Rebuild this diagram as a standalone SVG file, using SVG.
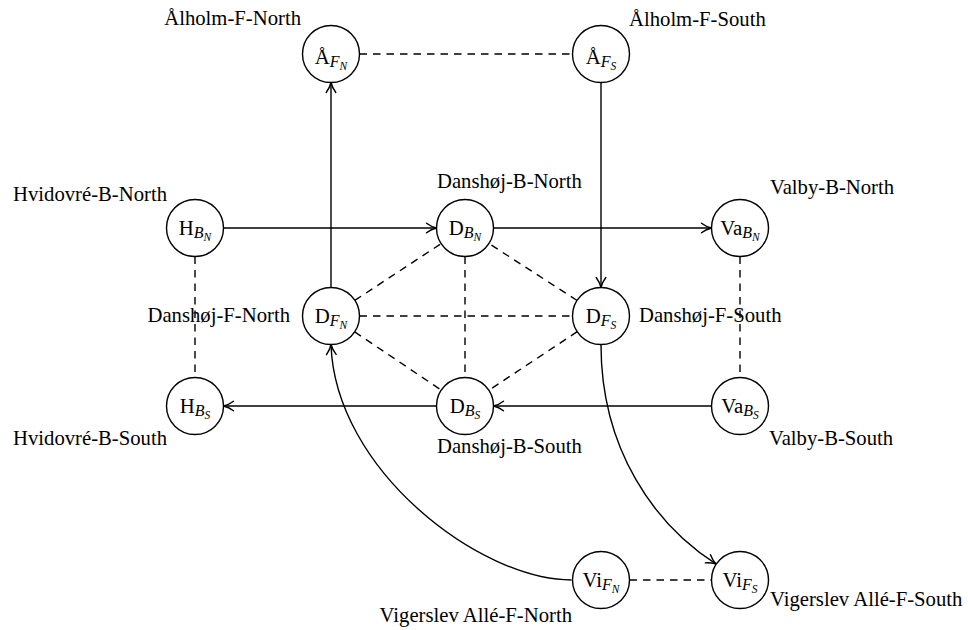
<svg xmlns="http://www.w3.org/2000/svg" width="968" height="630" viewBox="0 0 968 630">
<style>
  .node circle { fill: #ffffff; stroke: #000000; stroke-width: 1.4; }
  .n { font-family: "Liberation Serif", "Times New Roman", serif; font-size: 20.8px; fill: #000; text-anchor: middle; }
  .s { font-style: italic; font-size: 16px; }
  .ss { font-style: italic; font-size: 11.5px; }
  .lbl { font-family: "Liberation Serif", "Times New Roman", serif; font-size: 20.7px; fill: #000; }
  .end { text-anchor: end; }
  .edges path, .edges line { fill: none; stroke: #000000; stroke-width: 1.4; }
  .edges .d { stroke-dasharray: 7.5 6; }
</style>
<defs>
  <marker id="arr" markerUnits="userSpaceOnUse" viewBox="-12 -7 14 14" markerWidth="14" markerHeight="14" refX="0" refY="0" orient="auto">
    <path d="M-10,-4.8 C-6.5,-2.2 -2.5,-0.6 0,0 C-2.5,0.6 -6.5,2.2 -10,4.8" fill="none" stroke="#000" stroke-width="1.4" stroke-linecap="round"/>
  </marker>
</defs>

<g class="edges" id="connectors">
  <line class="d" x1="359.5" y1="54" x2="572.5" y2="54"/>
  <line class="d" x1="195" y1="256.5" x2="195" y2="377.5"/>
  <line class="d" x1="740" y1="256.5" x2="740" y2="377.5"/>
  <line class="d" x1="359.5" y1="316" x2="572.5" y2="316"/>
  <line class="d" x1="465" y1="256.5" x2="465" y2="377.5"/>
  <line class="d" x1="354.8" y1="300.4" x2="441.2" y2="243.6"/>
  <line class="d" x1="354.7" y1="331.9" x2="441.3" y2="390.1"/>
  <line class="d" x1="577.1" y1="300.5" x2="488.9" y2="243.5"/>
  <line class="d" x1="577.2" y1="331.7" x2="488.8" y2="390.3"/>
  <line class="d" x1="629.5" y1="580" x2="711.5" y2="580"/>
  <line x1="331" y1="287.5" x2="331" y2="82.5" marker-end="url(#arr)"/>
  <line x1="601" y1="82.5" x2="601" y2="287.5" marker-end="url(#arr)"/>
  <line x1="223.5" y1="228" x2="436.5" y2="228" marker-end="url(#arr)"/>
  <line x1="493.5" y1="228" x2="711.5" y2="228" marker-end="url(#arr)"/>
  <line x1="436.5" y1="406" x2="223.5" y2="406" marker-end="url(#arr)"/>
  <line x1="711.5" y1="406" x2="493.5" y2="406" marker-end="url(#arr)"/>
  <path d="M601,344.5 C601,450 655,525 716.3,564.2" marker-end="url(#arr)"/>
  <path d="M571.5,580 C480,580 335,470 331,344.5" marker-end="url(#arr)"/>
</g>

<g class="node" id="AFN"><circle cx="331" cy="54" r="28.5"/><text class="n" x="331" y="63.5">Å<tspan class="s" dy="3.5">F</tspan><tspan class="ss" dy="2.5">N</tspan></text></g>
<g class="node" id="AFS"><circle cx="601" cy="54" r="28.5"/><text class="n" x="601" y="63.5">Å<tspan class="s" dy="3.5">F</tspan><tspan class="ss" dy="2.5">S</tspan></text></g>
<g class="node" id="HBN"><circle cx="195" cy="228" r="28.5"/><text class="n" x="195" y="234.5">H<tspan class="s" dy="3.5">B</tspan><tspan class="ss" dy="2.5">N</tspan></text></g>
<g class="node" id="DBN"><circle cx="465" cy="228" r="28.5"/><text class="n" x="465" y="234.5">D<tspan class="s" dy="3.5">B</tspan><tspan class="ss" dy="2.5">N</tspan></text></g>
<g class="node" id="VaBN"><circle cx="740" cy="228" r="28.5"/><text class="n" x="740" y="234.5">Va<tspan class="s" dy="3.5">B</tspan><tspan class="ss" dy="2.5">N</tspan></text></g>
<g class="node" id="DFN"><circle cx="331" cy="316" r="28.5"/><text class="n" x="331" y="322.5">D<tspan class="s" dy="3.5">F</tspan><tspan class="ss" dy="2.5">N</tspan></text></g>
<g class="node" id="DFS"><circle cx="601" cy="316" r="28.5"/><text class="n" x="601" y="322.5">D<tspan class="s" dy="3.5">F</tspan><tspan class="ss" dy="2.5">S</tspan></text></g>
<g class="node" id="HBS"><circle cx="195" cy="406" r="28.5"/><text class="n" x="195" y="412.5">H<tspan class="s" dy="3.5">B</tspan><tspan class="ss" dy="2.5">S</tspan></text></g>
<g class="node" id="DBS"><circle cx="465" cy="406" r="28.5"/><text class="n" x="465" y="412.5">D<tspan class="s" dy="3.5">B</tspan><tspan class="ss" dy="2.5">S</tspan></text></g>
<g class="node" id="VaBS"><circle cx="740" cy="406" r="28.5"/><text class="n" x="740" y="412.5">Va<tspan class="s" dy="3.5">B</tspan><tspan class="ss" dy="2.5">S</tspan></text></g>
<g class="node" id="ViFN"><circle cx="601" cy="580" r="28.5"/><text class="n" x="601" y="586.5">Vi<tspan class="s" dy="3.5">F</tspan><tspan class="ss" dy="2.5">N</tspan></text></g>
<g class="node" id="ViFS"><circle cx="740" cy="580" r="28.5"/><text class="n" x="740" y="586.5">Vi<tspan class="s" dy="3.5">F</tspan><tspan class="ss" dy="2.5">S</tspan></text></g>

<g id="labels">
  <text class="lbl end" x="301" y="25">Ålholm-F-North</text>
  <text class="lbl" x="629" y="25.5">Ålholm-F-South</text>
  <text class="lbl end" x="167" y="200.5">Hvidovré-B-North</text>
  <text class="lbl" x="437" y="188">Danshøj-B-North</text>
  <text class="lbl" x="770" y="194">Valby-B-North</text>
  <text class="lbl end" x="290" y="321.7">Danshøj-F-North</text>
  <text class="lbl" x="639" y="321.7">Danshøj-F-South</text>
  <text class="lbl end" x="167" y="445">Hvidovré-B-South</text>
  <text class="lbl" x="437" y="453">Danshøj-B-South</text>
  <text class="lbl" x="769" y="445">Valby-B-South</text>
  <text class="lbl end" x="572" y="621.7">Vigerslev Allé-F-North</text>
  <text class="lbl" x="770" y="606">Vigerslev Allé-F-South</text>
</g>
</svg>
